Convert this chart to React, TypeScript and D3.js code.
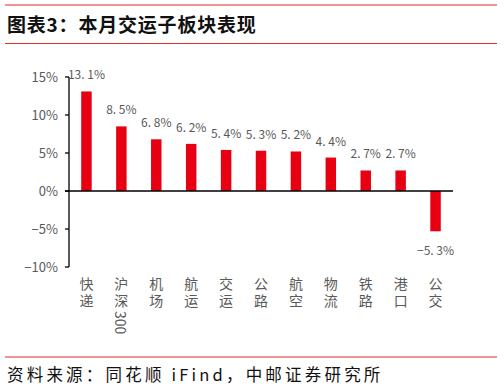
import React from 'react'
import * as d3 from 'd3'

const categories = ['快递', '沪深300', '机场', '航运', '交运', '公路', '航空', '物流', '铁路', '港口', '公交']
const values = [13.1, 8.5, 6.8, 6.2, 5.4, 5.3, 5.2, 4.4, 2.7, 2.7, -5.3]
const yTicks = [15, 10, 5, 0, -5, -10]

const W = 504
const H = 392
const font = '"Noto Sans CJK SC", "Noto Sans", sans-serif'

export default () => {
  const x = d3.scaleBand().domain(categories).range([69, 453]).paddingInner(0.7).paddingOuter(0.35)
  const y = d3.scaleLinear().domain([-10, 15]).range([267, 77])

  return (
    <svg width={W} height={H} style={{ position: 'absolute', left: 0, top: 0, background: '#fff' }}>
      <line x1={5} x2={497} y1={5} y2={5} stroke="#d9302c" strokeWidth={1.2} />
      <text x={7} y={32} fontFamily={font} fontWeight="bold" fontSize={19} fill="#111" letterSpacing={0.8}>
        图表3：本月交运子板块表现
      </text>
      <line x1={5} x2={497} y1={43.5} y2={43.5} stroke="#d9302c" strokeWidth={1.2} />

      {/* y axis */}
      <line x1={69} x2={69} y1={y(15)} y2={y(-10)} stroke="#000" strokeWidth={1.3} />
      {yTicks.map((t) => (
        <g key={t}>
          <line x1={65} x2={69} y1={y(t)} y2={y(t)} stroke="#000" strokeWidth={1.3} />
          <text x={58} y={y(t)} dy="0.36em" textAnchor="end" fontFamily={font} fontSize={13} fill="#595959">
            {t < 0 ? '\u2212' + Math.abs(t) : t}%
          </text>
        </g>
      ))}

      {/* bars */}
      {values.map((v, i) => {
        const c = categories[i]
        const bx = x(c) as number
        const top = y(Math.max(0, v))
        const h = Math.abs(y(v) - y(0))
        const lbl = (v < 0 ? '\u2212' + Math.abs(v).toFixed(1) : v.toFixed(1)).replace('.', '. ') + '%'
        return (
          <g key={c}>
            <rect x={bx} y={top} width={x.bandwidth()} height={h} fill="#e60012" />
            <text
              x={bx + x.bandwidth() / 2}
              y={v >= 0 ? y(v) - 12 : y(v) + 24}
              textAnchor="middle"
              fontFamily={font}
              fontSize={12}
              fill="#595959"
            >
              {lbl}
            </text>
          </g>
        )
      })}

      {/* zero line */}
      <line x1={65} x2={453} y1={y(0)} y2={y(0)} stroke="#000" strokeWidth={1.3} />

      {/* x labels, vertical */}
      {categories.map((c) => {
        const cx = (x(c) as number) + x.bandwidth() / 2
        const m = c.match(/^([^0-9A-Za-z]*)(.*)$/) as RegExpMatchArray
        return (
          <text
            key={c}
            x={cx}
            y={277}
            fontFamily={font}
            fontSize={14}
            fill="#595959"
            style={{ writingMode: 'vertical-rl', textOrientation: 'mixed' } as any}
          >
            <tspan letterSpacing={3}>{m[1]}</tspan>
            {m[2] && <tspan letterSpacing={0}>{m[2]}</tspan>}
          </text>
        )
      })}

      <line x1={5} x2={497} y1={357} y2={357} stroke="#d9302c" strokeWidth={1.2} />
      <text x={7} y={381} fontFamily={font} fontSize={16.5} fill="#111" letterSpacing={3.2}>
        资料来源：同花顺 iFind，中邮证券研究所
      </text>
    </svg>
  )
}
